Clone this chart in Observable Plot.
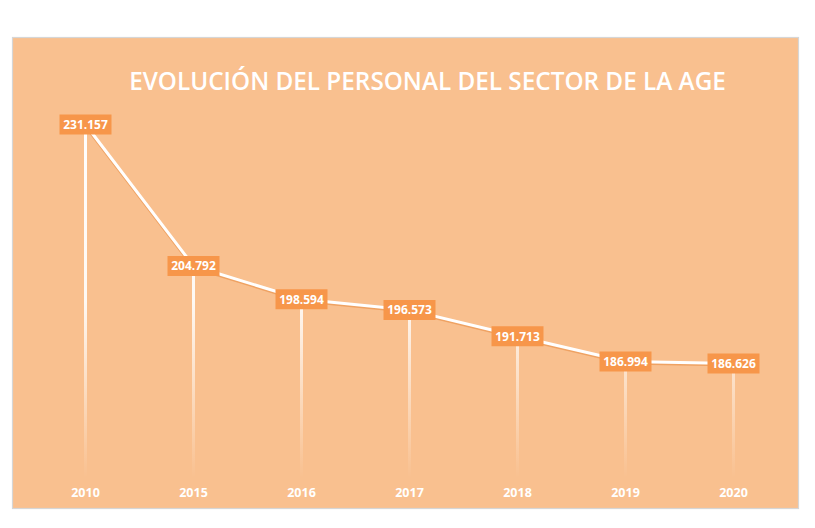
<!DOCTYPE html>
<html>
<head>
<meta charset="utf-8">
<script src="https://cdn.jsdelivr.net/npm/d3@7"></script>
<script src="https://cdn.jsdelivr.net/npm/@observablehq/plot@0.6"></script>
<style>
  html, body { margin: 0; padding: 0; background: #ffffff; }
  #chart svg { display: block; }
</style>
</head>
<body>
<div id="chart"></div>
<script>
const title = "EVOLUCIÓN DEL PERSONAL DEL SECTOR DE LA AGE";
const years = ["2010", "2015", "2016", "2017", "2018", "2019", "2020"];
const staff = [231157, 204792, 198594, 196573, 191713, 186994, 186626];
const valueLabels = ["231.157", "204.792", "198.594", "196.573", "191.713", "186.994", "186.626"];

const data = years.map((year, i) => ({year, value: staff[i], label: valueLabels[i]}));

const yBase = 165200;
const bg = "#F9C08F";
const boxColor = "#F7964A";

const boxSymbol = {
  draw(context) { context.rect(-26, -10, 52, 20); }
};

const plot = Plot.plot({
  width: 815,
  height: 528,
  marginLeft: 12,
  marginRight: 17,
  marginTop: 37,
  marginBottom: 20,
  style: {background: "#ffffff", fontFamily: "'Open Sans', sans-serif"},
  x: {type: "point", domain: years, range: [84.5, 733], padding: 0, axis: null},
  y: {domain: [yBase, 231157], range: [478, 124], axis: null},
  marks: [
    Plot.frame({fill: bg, stroke: "#d6d6d6", strokeWidth: 1.2}),
    Plot.ruleX(data, {x: "year", y1: "value", y2: yBase, stroke: "url(#fadeWhite)", strokeWidth: 3}),
    Plot.line(data, {x: "year", y: "value", stroke: "#E8893E", strokeOpacity: 0.55, strokeWidth: 3, dy: 1.5}),
    Plot.line(data, {x: "year", y: "value", stroke: "#ffffff", strokeWidth: 3}),
    Plot.dot(data, {x: "year", y: "value", symbol: boxSymbol, fill: boxColor, stroke: "none"}),
    Plot.text(data, {x: "year", y: "value", text: "label", fill: "#ffffff", fontSize: 12, fontWeight: "bold", dy: 0.5}),
    Plot.text(years, {x: d => d, frameAnchor: "bottom", dy: -12, fill: "#ffffff", fontSize: 12.5, fontWeight: "bold"}),
    Plot.text([title], {frameAnchor: "top", dx: 22, dy: 35, fill: "#ffffff", fontSize: 24.3, fontWeight: 600})
  ]
});

const svg = d3.select(plot);
const defs = svg.insert("defs", ":first-child");
const grad = defs.append("linearGradient")
  .attr("id", "fadeWhite")
  .attr("gradientUnits", "userSpaceOnUse")
  .attr("x1", 0).attr("x2", 0).attr("y1", 124).attr("y2", 478);
grad.append("stop").attr("offset", "0%").attr("stop-color", "#ffffff").attr("stop-opacity", 1);
grad.append("stop").attr("offset", "50%").attr("stop-color", "#ffffff").attr("stop-opacity", 0.9);
grad.append("stop").attr("offset", "100%").attr("stop-color", "#ffffff").attr("stop-opacity", 0);

document.getElementById("chart").appendChild(plot);
</script>
</body>
</html>
